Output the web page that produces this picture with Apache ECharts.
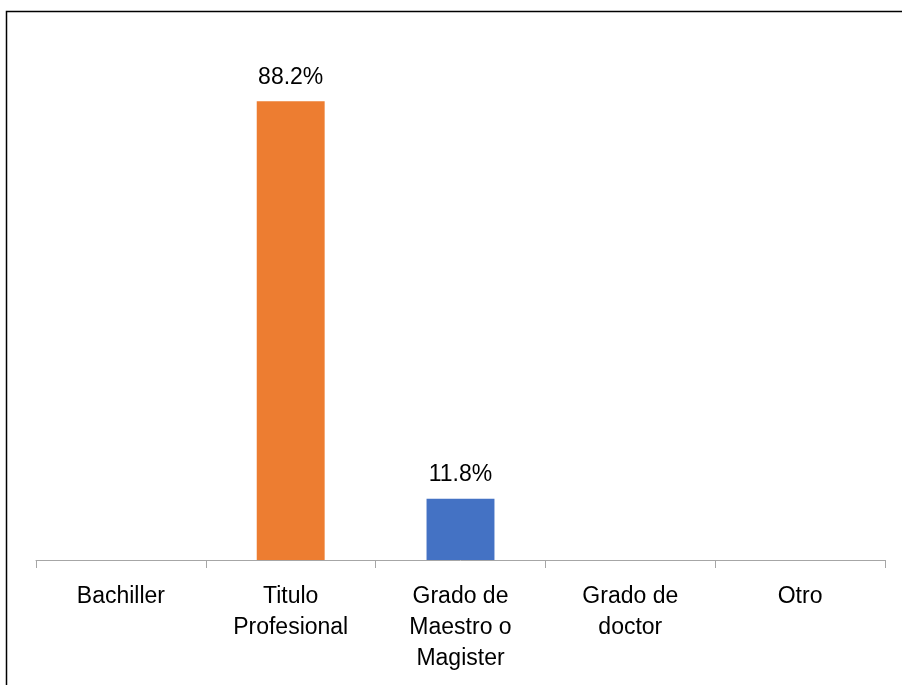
<!DOCTYPE html>
<html>
<head>
<meta charset="utf-8">
<style>
  html, body { margin: 0; padding: 0; background: #ffffff; }
  #chart { width: 902px; height: 685px; }
</style>
<script src="https://cdn.jsdelivr.net/npm/echarts@6/dist/echarts.min.js"></script>
</head>
<body>
<div id="chart"></div>
<script>
// Nivel académico alcanzado (porcentaje)
const categories = ['Bachiller', 'Titulo\nProfesional', 'Grado de\nMaestro o\nMagister', 'Grado de\ndoctor', 'Otro'];
const values = [null, 88.2, 11.8, null, null];
const barColors = ['#4472c4', '#ed7d31', '#4472c4', '#4472c4', '#4472c4'];

const chart = echarts.init(document.getElementById('chart'), null, { renderer: 'canvas' });

const FONT = '"Liberation Sans", Arial, sans-serif';

chart.setOption({
  animation: false,
  backgroundColor: '#ffffff',
  grid: { left: 36, right: 17, top: 40, bottom: 125, containLabel: false },
  xAxis: {
    type: 'category',
    data: categories,
    axisLine: { show: true, lineStyle: { color: '#a6a6a6', width: 1 } },
    axisTick: { show: true, alignWithLabel: false, length: 8, lineStyle: { color: '#a6a6a6', width: 1 } },
    axisLabel: {
      interval: 0,
      margin: 21,
      color: '#000000',
      fontFamily: FONT,
      fontSize: 23,
      lineHeight: 31
    }
  },
  yAxis: {
    type: 'value',
    min: 0,
    max: 100,
    show: false,
    splitLine: { show: false }
  },
  series: [{
    type: 'bar',
    data: values.map((v, i) => ({ value: v, itemStyle: { color: barColors[i] } })),
    barWidth: '40%',
    label: {
      show: true,
      position: 'top',
      distance: 12,
      color: '#000000',
      fontFamily: FONT,
      fontSize: 23,
      formatter: p => (p.value == null ? '' : p.value.toFixed(1) + '%')
    }
  }],
  graphic: [{
    type: 'polyline',
    shape: { points: [[6.5, 700], [6.5, 11.5], [910, 11.5]] },
    style: { stroke: '#000000', lineWidth: 1.5, fill: null },
    silent: true
  }]
});
</script>
</body>
</html>
